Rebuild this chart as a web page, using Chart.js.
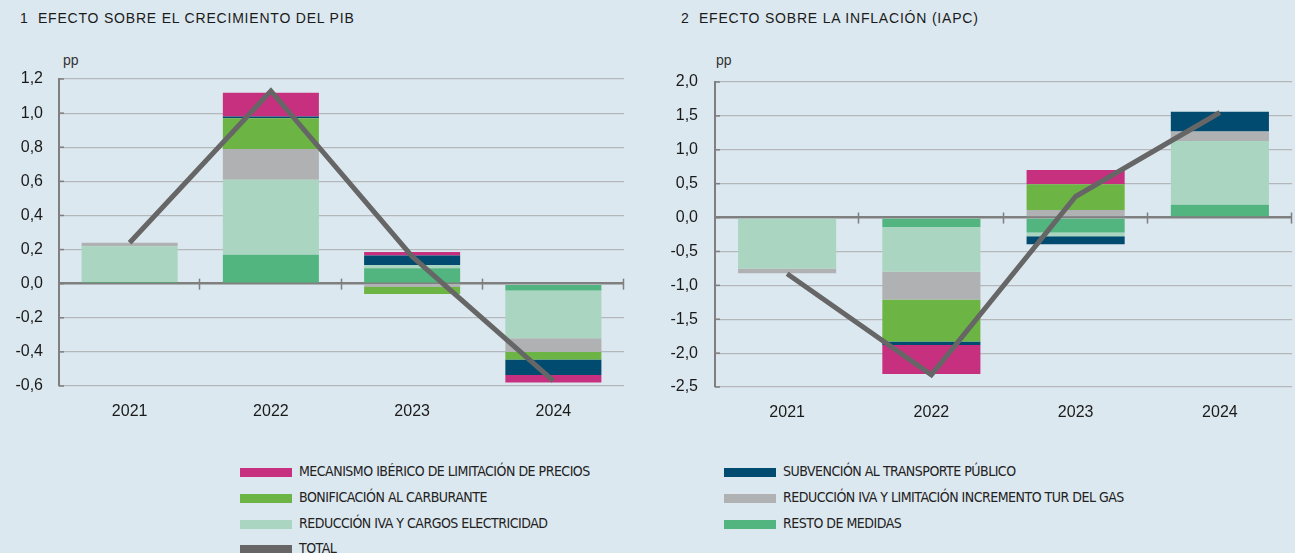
<!DOCTYPE html>
<html>
<head>
<meta charset="utf-8">
<script src="https://cdn.jsdelivr.net/npm/chart.js@4.4.1/dist/chart.umd.min.js"></script>
<style>
  body { margin: 0; background: #dce8ef; width: 1295px; height: 553px; overflow: hidden; position: relative;
         font-family: "Liberation Sans", Arial, sans-serif; color: #1a1a1a; }
  canvas { position: absolute; top: 0; }
  .title { position: absolute; top: 10px; font-size: 14px; letter-spacing: 0.8px; }
  .pp { position: absolute; top: 52px; font-size: 14px; color: #333; }
  .leg { position: absolute; font-family: "Liberation Sans Narrow", "DejaVu Sans Condensed", sans-serif;
         font-size: 14px; letter-spacing: -0.5px; color: #222; white-space: nowrap; }
  .leg span { display: inline-block; width: 52px; height: 9px; vertical-align: middle; margin-right: 7px; }
</style>
</head>
<body>
<div class="title" style="left:20px">1&nbsp; EFECTO SOBRE EL CRECIMIENTO DEL PIB</div>
<div class="title" style="left:681px">2&nbsp; EFECTO SOBRE LA INFLACIÓN (IAPC)</div>
<div class="pp" style="left:63px">pp</div>
<div class="pp" style="left:716px">pp</div>
<canvas id="pib" width="650" height="440" style="left:0"></canvas>
<canvas id="iapc" width="645" height="440" style="left:650px"></canvas>
<div id="legend"></div>
<script>
// data
const years = ["2021", "2022", "2023", "2024"];

const pibResto       = [0.01, 0.17, 0.09, -0.04];
const pibElectricidad = [0.21, 0.44, 0.02, -0.28];
const pibGas         = [0.02, 0.18, -0.02, -0.08];
const pibCarburante  = [0, 0.18, -0.04, -0.045];
const pibTransporte  = [0, 0.01, 0.055, -0.09];
const pibIberico     = [0, 0.14, 0.02, -0.045];
const pibTotal       = [0.24, 1.13, 0.16, -0.57];

const iapcResto       = [0, -0.14, -0.22, 0.19];
const iapcElectricidad = [-0.75, -0.66, -0.055, 0.94];
const iapcGas         = [-0.07, -0.41, 0.11, 0.14];
const iapcCarburante  = [0, -0.62, 0.38, 0];
const iapcTransporte  = [0, -0.05, -0.12, 0.29];
const iapcIberico     = [0, -0.43, 0.21, 0];
const iapcTotal       = [-0.83, -2.32, 0.31, 1.55];

const seriesNames = ["RESTO DE MEDIDAS", "REDUCCIÓN IVA Y CARGOS ELECTRICIDAD",
  "REDUCCIÓN IVA Y LIMITACIÓN INCREMENTO TUR DEL GAS", "BONIFICACIÓN AL CARBURANTE",
  "SUBVENCIÓN AL TRANSPORTE PÚBLICO", "MECANISMO IBÉRICO DE LIMITACIÓN DE PRECIOS"];
const colors = ["#52b57f", "#a9d5c1", "#b0b1b3", "#6cb444", "#004b6f", "#c7307f"];
const totalColor = "#666666";

// legend: two columns
const legendItems = [
  [5, 240, 472], [3, 240, 498], [1, 240, 524], [-1, 240, 549],
  [4, 724, 472], [2, 724, 498], [0, 724, 524]
];
let lg = document.getElementById('legend');
legendItems.forEach(function(it){
  let d = document.createElement('div');
  d.className = 'leg';
  d.style.left = it[1] + 'px';
  d.style.top = (it[2] - 9) + 'px';
  let c = it[0] < 0 ? totalColor : colors[it[0]];
  let t = it[0] < 0 ? 'TOTAL' : seriesNames[it[0]];
  d.innerHTML = '<span style="background:' + c + '"></span>' + t;
  lg.appendChild(d);
});

// tick marks on the zero line between categories and inward ticks on the y axis
const axisMarks = {
  id: 'axisMarks',
  afterDatasetsDraw(chart) {
    const ctx = chart.ctx, x = chart.scales.x, y = chart.scales.y;
    const y0 = y.getPixelForValue(0);
    const step = (x.right - x.left) / years.length;
    ctx.save();
    ctx.strokeStyle = '#7f7f7f';
    ctx.lineWidth = 1.5;
    for (let i = 1; i <= years.length; i++) {
      let px = Math.round(x.left + i * step) - 0.5;
      ctx.beginPath();
      ctx.moveTo(px, y0 - 5);
      ctx.lineTo(px, y0 + 6);
      ctx.stroke();
    }
    y.ticks.forEach(function(t){
      let py = y.getPixelForValue(t.value);
      ctx.beginPath();
      ctx.moveTo(y.right, py);
      ctx.lineTo(y.right + 5, py);
      ctx.stroke();
    });
    ctx.restore();
  }
};

function makeChart(id, vals, total, min, max, step, yWidth, padTop, padRight, xHeight, labelPad) {
  let datasets = vals.map(function(v, i){
    return {
      type: 'bar', label: seriesNames[i], data: v, backgroundColor: colors[i],
      borderWidth: 0, stack: 'medidas', barPercentage: 0.68, categoryPercentage: 1
    };
  });
  datasets.push({
    type: 'line', label: 'TOTAL', data: total, borderColor: totalColor, borderWidth: 5,
    pointRadius: 0, fill: false, tension: 0, stack: 'total', order: -1
  });
  return new Chart(id, {
    type: 'bar',
    data: { labels: years, datasets: datasets },
    options: {
      responsive: false,
      animation: false,
      layout: { padding: { top: padTop, right: padRight, left: 0, bottom: 0 } },
      plugins: { legend: { display: false }, tooltip: { enabled: false } },
      scales: {
        x: {
          stacked: true,
          grid: { display: false },
          border: { display: false },
          ticks: { color: '#1a1a1a', padding: 8, font: { family: 'Liberation Sans', size: 16 } },
          afterFit: function(s) { s.height = xHeight; }
        },
        y: {
          stacked: true,
          min: min, max: max,
          grid: {
            drawTicks: false,
            color: function(c) { return c.tick.value === 0 ? '#7f7f7f' : '#b4b8bb'; },
            lineWidth: function(c) { return c.tick.value === 0 ? 2.5 : 1.2; }
          },
          border: { display: true, color: '#7f7f7f', width: 2 },
          ticks: {
            stepSize: step, padding: labelPad, color: '#1a1a1a',
            font: { family: 'Liberation Sans', size: 16 },
            callback: function(v) { return v.toFixed(1).replace('.', ','); }
          },
          afterFit: function(s) { s.width = yWidth; }
        }
      }
    },
    plugins: [axisMarks]
  });
}

makeChart('pib', [pibResto, pibElectricidad, pibGas, pibCarburante, pibTransporte, pibIberico],
  pibTotal, -0.6, 1.2, 0.2, 59, 79, 26, 54, 16);
makeChart('iapc', [iapcResto, iapcElectricidad, iapcGas, iapcCarburante, iapcTransporte, iapcIberico],
  iapcTotal, -2.5, 2.0, 0.5, 65, 82, 3, 53, 17);
</script>
</body>
</html>
